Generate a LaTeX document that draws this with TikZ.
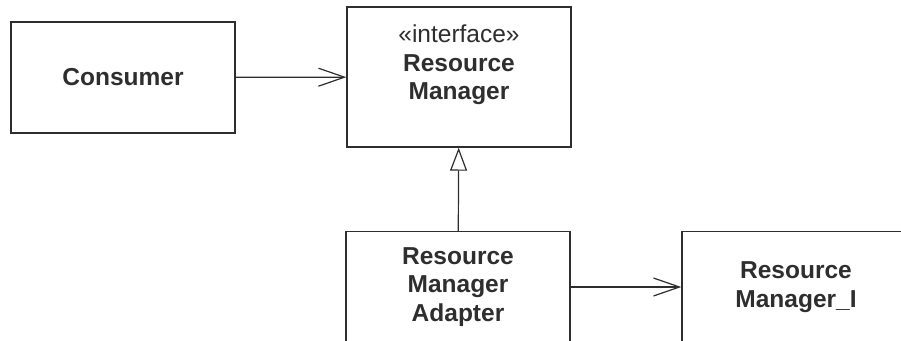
\documentclass[tikz,border=0pt]{standalone}
\usepackage{fontspec}
\setmainfont{Liberation Sans}
\usepackage{xcolor}
\usetikzlibrary{arrows.meta}
\definecolor{umlgray}{HTML}{2E2E2E}

\begin{document}
\begin{tikzpicture}[x=1pt,y=1pt,
  font=\fontsize{24.5}{28.5}\selectfont,
  cls/.style={draw=umlgray, line width=1.4pt, text=umlgray, align=center, inner sep=0pt},
  dep/.style={draw=umlgray, line width=1.2pt, -{Straight Barb[length=26pt,width=18pt,line width=1.2pt]}},
  gen/.style={draw=umlgray, line width=1.2pt, -{Triangle[open,length=23pt,width=17pt,line width=1.2pt,fill=white]}}]
\useasboundingbox (0,0) rectangle (901,-340);
\clip (0,0) rectangle (901,-340);
\node[cls, minimum width=224, minimum height=111](cons) at (123,-77.5){\textbf{Consumer}};
\node[cls, minimum width=224, minimum height=140](iface) at (459,-77){};
\node[text=umlgray, align=center, inner sep=0pt](ifacetxt) at (459,-65){«interface»\\\textbf{Resource}\\\textbf{Manager}};
\node[cls, minimum width=224, minimum height=111](adapt) at (458,-287){\textbf{Resource}\\\textbf{Manager}\\\textbf{Adapter}};
\node[cls, minimum width=228, minimum height=111](impl) at (796,-287){\textbf{Resource}\\\textbf{Manager\_I}};
\draw[dep] (cons) -- (iface);
\draw[gen] (adapt) -- (iface);
\draw[dep] (adapt) -- (impl);
\end{tikzpicture}
\end{document}
